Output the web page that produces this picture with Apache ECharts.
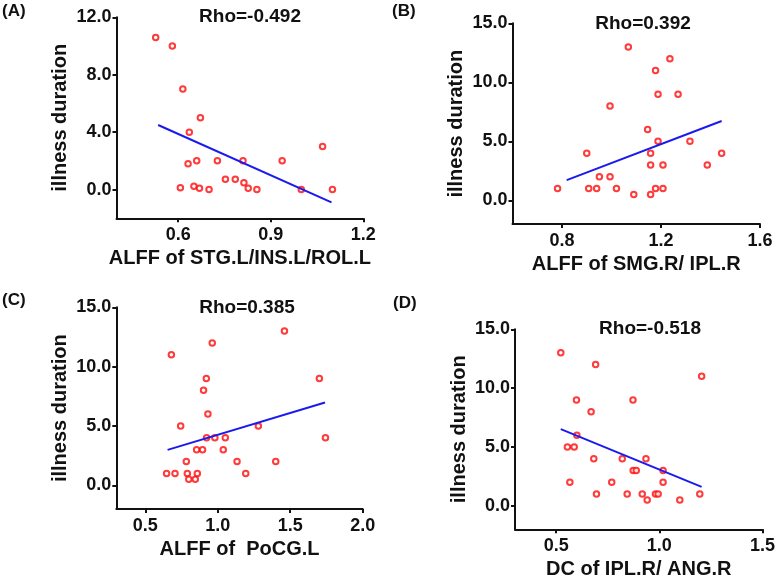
<!DOCTYPE html>
<html>
<head>
<meta charset="utf-8">
<script src="https://cdn.jsdelivr.net/npm/echarts@6/dist/echarts.min.js"></script>
<style>
html,body{margin:0;padding:0;background:#fff;}
#c{width:778px;height:583px;}
</style>
</head>
<body>
<div id="c"></div>
<script>
// ---- Data ----
const panelLabels = ['(A)', '(B)', '(C)', '(D)'];
const rhoLabels = ['Rho=-0.492', 'Rho=0.392', 'Rho=0.385', 'Rho=-0.518'];
const xNames = ['ALFF of STG.L/INS.L/ROL.L', 'ALFF of SMG.R/ IPL.R', 'ALFF of  PoCG.L', 'DC of IPL.R/ ANG.R'];
const yName = 'illness duration';

const xA = [0.527,0.581,0.615,0.672,0.636,0.632,0.660,0.727,0.810,0.937,1.068,0.607,0.651,0.669,0.700,0.753,0.785,0.813,0.827,0.855,0.999,1.100];
const yA = [10.6,10.0,7.0,5.0,4.0,1.8,2.0,2.0,2.0,2.0,3.0,0.12,0.23,0.1,0.0,0.72,0.72,0.47,0.1,0.0,0.0,0.0];
const fitAx = [0.535, 1.097];
const fitAy = [4.5, -0.89];

const xB = [0.782,0.900,0.908,0.940,0.951,0.994,0.994,1.020,1.090,1.068,1.146,1.158,1.158,1.158,1.178,1.178,1.188,1.188,1.208,1.208,1.236,1.269,1.317,1.387,1.445];
const yB = [1,4,1,1,2,2,8,1,0.5,13,6,4,3,0.5,1,11,9,5,1,3,12,9,5,3,4];
const fitBx = [0.819, 1.445];
const fitBy = [1.72, 6.72];

const xC = [0.647,0.705,0.680,0.744,0.783,0.790,0.800,0.845,0.859,0.854,0.895,0.902,0.921,0.932,0.923,0.962,0.980,1.038,1.052,1.133,1.193,1.280,1.400,1.460,1.701,1.743];
const yC = [1,1,11,5,2,1,0.5,0.5,1,3,3,8,9,6,4,12,4,3,4,2,1,5,2,13,9,4];
const fitCx = [0.654, 1.740];
const fitCy = [2.98, 6.98];

const xD = [0.522,0.691,1.205,0.598,0.872,0.669,0.600,0.554,0.587,0.682,0.820,0.935,0.873,0.888,1.018,0.566,0.769,1.018,0.695,0.844,0.917,0.981,0.994,0.941,1.099,1.196];
const yD = [13,12,11,9,9,8,6,5,5,4,4,4,3,3,3,2,2,2,1,1,1,1,1,0.5,0.5,1];
const fitDx = [0.522, 1.205];
const fitDy = [6.51, 1.61];

const xTicks = [[0.6,0.9,1.2],[0.8,1.2,1.6],[0.5,1.0,1.5,2.0],[0.5,1.0,1.5]];
const yTicks = [[0,4,8,12],[0,5,10,15],[0,5,10,15],[0,5,10,15]];
const xRanges = [[0.4,1.2],[0.6,1.6],[0.3,2.0],[0.3,1.5]];
const yRanges = [[-2,12],[-2,15],[-2,15],[-2,15]];

const xs = [xA, xB, xC, xD];
const ys = [yA, yB, yC, yD];
const fitXs = [fitAx, fitBx, fitCx, fitDx];
const fitYs = [fitAy, fitBy, fitCy, fitDy];

// ---- Layout ----
const grids = [
  {left: 116.5, top: 17.3, width: 246.8, height: 201},
  {left: 512.5, top: 23.3, width: 247.5, height: 200.7},
  {left: 116.3, top: 307.3, width: 246.4, height: 201.7},
  {left: 515, top: 329.3, width: 248.3, height: 200}
];
const rhoPos = [[250,16.5],[643,23.5],[247,308],[650,328.5]];
const labelPos = [[2,11.5],[392,11.5],[2,300],[393,303.5]];

const FONT = 'Liberation Sans, Arial, sans-serif';
const INK = '#111111';

const chart = echarts.init(document.getElementById('c'));

const axisCommon = {
  axisLine: {show: true, onZero: false, lineStyle: {color: INK, width: 2}},
  axisTick: {show: true, inside: false, length: 4, lineStyle: {color: INK, width: 2}},
  splitLine: {show: false},
  nameLocation: 'middle',
  nameTextStyle: {fontFamily: FONT, fontWeight: 'bold', fontSize: 20, color: INK}
};

const xAxis = [], yAxis = [], series = [], graphic = [];
for (let i = 0; i < 4; i++) {
  xAxis.push(Object.assign({}, axisCommon, {
    gridIndex: i, type: 'value', min: xRanges[i][0], max: xRanges[i][1],
    name: xNames[i], nameGap: 30,
    axisTick: Object.assign({}, axisCommon.axisTick, {customValues: xTicks[i]}),
    axisLabel: {customValues: xTicks[i], formatter: v => v.toFixed(1), fontFamily: FONT, fontWeight: 'bold', fontSize: 18, color: INK, margin: 8}
  }));
  yAxis.push(Object.assign({}, axisCommon, {
    gridIndex: i, type: 'value', min: yRanges[i][0], max: yRanges[i][1],
    name: yName, nameGap: 46,
    axisTick: Object.assign({}, axisCommon.axisTick, {customValues: yTicks[i]}),
    axisLabel: {customValues: yTicks[i], formatter: v => v.toFixed(1), fontFamily: FONT, fontWeight: 'bold', fontSize: 18, color: INK, margin: 5}
  }));
  series.push({
    type: 'scatter', xAxisIndex: i, yAxisIndex: i,
    data: xs[i].map((x, j) => [x, ys[i][j]]),
    symbol: 'circle', symbolSize: 5.5,
    itemStyle: {color: '#ffffff', borderColor: '#ff0a0a', borderWidth: 2},
    z: 3
  });
  series.push({
    type: 'line', xAxisIndex: i, yAxisIndex: i,
    data: fitXs[i].map((x, j) => [x, fitYs[i][j]]),
    showSymbol: false, symbol: 'none',
    lineStyle: {color: '#1a1aee', width: 2},
    z: 4
  });
  graphic.push({
    type: 'text', x: rhoPos[i][0], y: rhoPos[i][1],
    style: {text: rhoLabels[i], font: 'bold 19px ' + FONT, fill: INK, textAlign: 'center', textVerticalAlign: 'middle'}
  });
  graphic.push({
    type: 'text', x: labelPos[i][0], y: labelPos[i][1],
    style: {text: panelLabels[i], font: 'bold 17px ' + FONT, fill: INK, textAlign: 'left', textVerticalAlign: 'middle'}
  });
}

chart.setOption({
  animation: false,
  backgroundColor: '#ffffff',
  grid: grids,
  xAxis: xAxis,
  yAxis: yAxis,
  series: series,
  graphic: graphic
});
</script>
</body>
</html>
